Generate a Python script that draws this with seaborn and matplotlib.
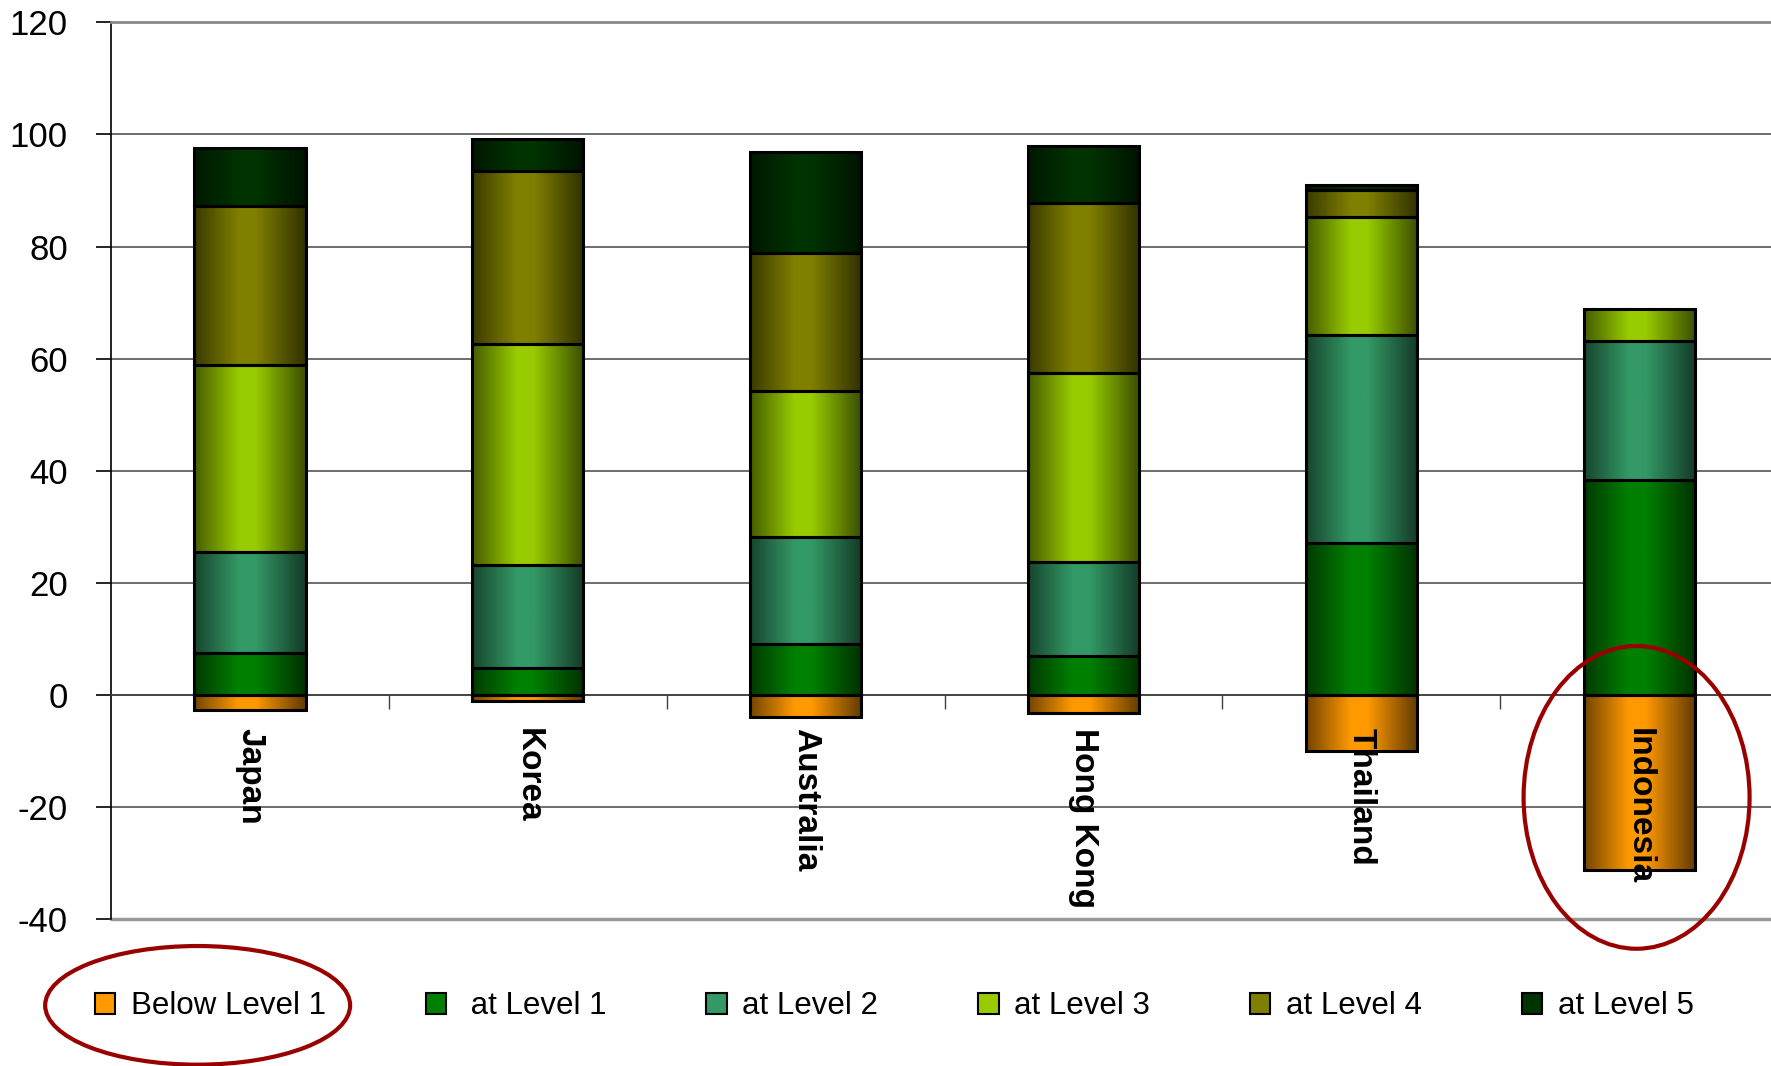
import numpy as np
import matplotlib
matplotlib.use("Agg")
import matplotlib.pyplot as plt
from matplotlib.patches import Patch, Ellipse
from matplotlib.colors import to_rgb
import seaborn as sns

countries = ["Japan", "Korea", "Australia", "Hong Kong", "Thailand", "Indonesia"]
below_level1 = [2.7, 1.1, 3.9, 3.3, 10.1, 31.2]
level1 = [7.4, 4.8, 9.0, 6.9, 27.0, 38.4]
level2 = [18.0, 18.4, 19.1, 16.8, 37.2, 24.7]
level3 = [33.5, 39.4, 26.1, 33.7, 21.0, 5.8]
level4 = [28.3, 30.9, 24.6, 30.4, 4.8, 0.0]
level5 = [10.3, 5.6, 18.1, 10.2, 0.9, 0.0]
series_names = ["Below Level 1", " at Level 1", "at Level 2", "at Level 3", "at Level 4", "at Level 5"]
colors = ["#FF9900", "#008000", "#339966", "#99CC00", "#808000", "#003300"]
yticks = [-40, -20, 0, 20, 40, 60, 80, 100, 120]

sns.set_theme(style="white")
plt.rcParams['font.family'] = ['Liberation Sans', 'DejaVu Sans']
plt.rcParams['text.color'] = 'black'
plt.rcParams['xtick.color'] = 'black'
plt.rcParams['ytick.color'] = 'black'

fig = plt.figure(figsize=(17.71, 10.66), dpi=100)
ax = fig.add_axes([0.0627, 0.138, 0.9413, 0.841])

pos_layers = [level1, level2, level3, level4, level5]
pos_colors = colors[1:]

# negative layer
sns.barplot(x=countries, y=[-v for v in below_level1], color=colors[0], width=0.4,
            edgecolor="black", linewidth=2.2, saturation=1, ax=ax, zorder=3)
bottom = np.zeros(len(countries))
for vals, col in zip(pos_layers, pos_colors):
    sns.barplot(x=countries, y=vals, bottom=bottom, color=col, width=0.4,
                edgecolor="black", linewidth=2.2, saturation=1, ax=ax, zorder=3)
    bottom = bottom + np.array(vals)

# horizontal shading gradient inside each bar
t = np.linspace(0, 1, 200)
f = np.interp(t, [0, 0.4, 0.55, 1], [0.45, 1.0, 1.0, 0.38])
for p in list(ax.patches):
    h = p.get_height()
    if abs(h) < 1e-9:
        p.set_visible(False)
        continue
    rgb = np.array(to_rgb(p.get_facecolor()))
    img = (f[:, None] * rgb[None, :])[None, :, :]
    x0, w, y0 = p.get_x(), p.get_width(), p.get_y()
    y1 = y0 + h
    im = ax.imshow(img, extent=[x0, x0 + w, min(y0, y1), max(y0, y1)],
                   aspect="auto", zorder=2.5, interpolation="bilinear")
    im.set_clip_path(p)
    p.set_facecolor("none")

ax.set_xlim(-0.5, 5.5)
ax.set_ylim(-40, 120)
ax.set_yticks(yticks)
ax.set_yticklabels([str(v) for v in yticks], fontsize=25, color="black")
ax.tick_params(axis="y", direction="out", length=11, width=1.2, color="black", pad=20, left=True)

ax.spines["bottom"].set_position(("data", 0))
ax.spines["bottom"].set_color("#404040")
ax.spines["bottom"].set_linewidth(1.2)
ax.spines["left"].set_color("black")
ax.spines["left"].set_linewidth(1.2)
ax.spines["top"].set_color("#888888")
ax.spines["top"].set_linewidth(2)
ax.spines["right"].set_visible(False)

ax.set_xticks(range(len(countries)))
ax.set_xticklabels(countries, rotation=270, fontsize=24, fontweight="bold",
                   va="top", ha="center", color="black")
ax.tick_params(axis="x", which="major", length=0, pad=24, bottom=True)
ax.set_xticks([0.5, 1.5, 2.5, 3.5, 4.5], minor=True)
ax.tick_params(axis="x", which="minor", direction="out", length=10, width=1, color="#404040", bottom=True)
ax.set_xlabel("")
ax.set_ylabel("")

ax.yaxis.grid(True, color="#555555", linewidth=1.2, zorder=0)
ax.set_axisbelow(True)
ax.xaxis.set_zorder(6)  # country names drawn over the bars
ax.axhline(-40, color="#999999", linewidth=2.5, zorder=1, clip_on=False)

handles = [Patch(facecolor=c, edgecolor="black", linewidth=1.5) for c in colors]
leg = fig.legend(handles, series_names, loc="center", bbox_to_anchor=(0.505, 0.056), ncol=6,
                 frameon=False, fontsize=22.5, handlelength=0.65, handleheight=0.65,
                 handletextpad=0.5, columnspacing=3.2)
for txt in leg.get_texts():
    txt.set_color("black")

red = "#990000"
fig.add_artist(Ellipse((0.1116, 0.0569), 0.1722, 0.1113, transform=fig.transFigure,
                       fill=False, edgecolor=red, linewidth=3))
fig.add_artist(Ellipse((0.9241, 0.2520), 0.1276, 0.2840, transform=fig.transFigure,
                       fill=False, edgecolor=red, linewidth=3, zorder=10))

fig.savefig("out.png", dpi=100)
